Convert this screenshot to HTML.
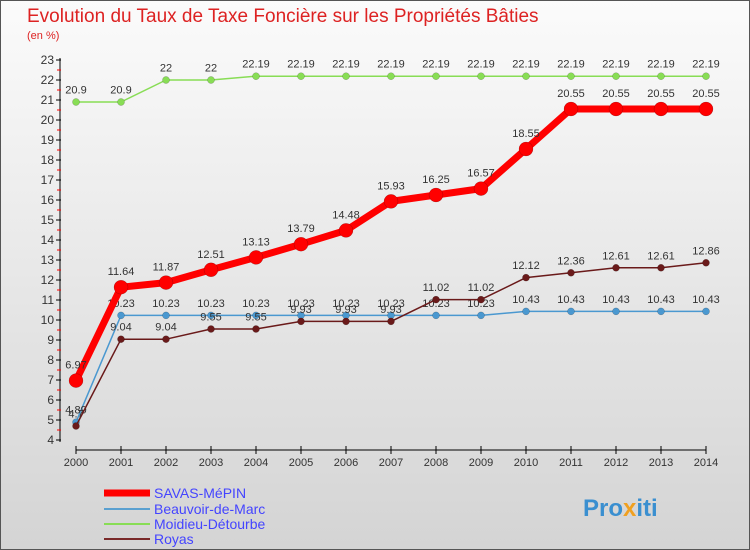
<!DOCTYPE html>
<html><head><meta charset="utf-8"><style>
body{margin:0;width:750px;height:550px;overflow:hidden;font-family:"Liberation Sans",sans-serif}
#wrap{position:absolute;left:0;top:0;width:748px;height:548px;border:1px solid #555;background:linear-gradient(#fbfbfb,#d4d4d4)}
</style></head><body>
<div id="wrap">
<svg id="c" width="750" height="550" style="position:absolute;left:-1px;top:-1px">
<text x="27" y="22" font-size="19" fill="#d22">Evolution du Taux de Taxe Foncière sur les Propriétés Bâties</text>
<text x="27" y="39" font-size="11" fill="#d22">(en %)</text>
<g id="axes"></g><g id="series"></g>
<g>
<line x1="104" y1="493" x2="150" y2="493" stroke="#f00" stroke-width="7"/>
<text x="154" y="498" font-size="14" fill="#44f">SAVAS-MéPIN</text>
<line x1="104" y1="509" x2="150" y2="509" stroke="#5aa0d0" stroke-width="2"/>
<text x="154" y="514" font-size="14" fill="#44f">Beauvoir-de-Marc</text>
<line x1="104" y1="524" x2="150" y2="524" stroke="#88dd55" stroke-width="2"/>
<text x="154" y="529" font-size="14" fill="#44f">Moidieu-Détourbe</text>
<line x1="104" y1="539" x2="150" y2="539" stroke="#7a2a2a" stroke-width="2"/>
<text x="154" y="544" font-size="14" fill="#44f">Royas</text>
</g>
<text x="583" y="516" font-size="24" font-weight="bold" fill="#3a8fd0">Pro<tspan fill="#f0a020">x</tspan>iti</text>
</svg></div>
<script>
const years=[2000,2001,2002,2003,2004,2005,2006,2007,2008,2009,2010,2011,2012,2013,2014];
const savas=[6.97,11.64,11.87,12.51,13.13,13.79,14.48,15.93,16.25,16.57,18.55,20.55,20.55,20.55,20.55];
const beauvoir=[4.89,10.23,10.23,10.23,10.23,10.23,10.23,10.23,10.23,10.23,10.43,10.43,10.43,10.43,10.43];
const moidieu=[20.9,20.9,22,22,22.19,22.19,22.19,22.19,22.19,22.19,22.19,22.19,22.19,22.19,22.19];
const royas=[4.7,9.04,9.04,9.55,9.55,9.93,9.93,9.93,11.02,11.02,12.12,12.36,12.61,12.61,12.86];
const yTicks=[4,5,6,7,8,9,10,11,12,13,14,15,16,17,18,19,20,21,22,23];
const NS="http://www.w3.org/2000/svg";
const X=i=>76+45*i, Y=v=>440-(v-4)*20;
function mk(p,t,a){const e=document.createElementNS(NS,t);for(const k in a)e.setAttribute(k,a[k]);p.appendChild(e);return e;}
const ax=document.getElementById('axes');
mk(ax,'line',{x1:60,y1:58,x2:60,y2:442,stroke:'#000','stroke-width':1});
mk(ax,'line',{x1:76,y1:450,x2:706,y2:450,stroke:'#000','stroke-width':1});
yTicks.forEach(v=>{
 const l=mk(ax,'line',{x1:56,y1:Y(v),x2:61,y2:Y(v),stroke:'#000'});
 
 
 if(v<23)mk(ax,'line',{x1:57,y1:Y(v)-10,x2:61,y2:Y(v)-10,stroke:'#f00'});
 const t=mk(ax,'text',{x:54,y:Y(v)+4,'font-size':12,'text-anchor':'end',fill:'#333'});
 t.textContent=v;
 
 
});
years.forEach((yr,i)=>{
 mk(ax,'line',{x1:X(i),y1:446,x2:X(i),y2:454,stroke:'#000'});
 const t=mk(ax,'text',{x:X(i),y:466,'font-size':11,'text-anchor':'middle',fill:'#333'});
 t.textContent=yr;
 
 
});
const sg=document.getElementById('series');
function draw(data,color,w,r,name){
 const g=mk(sg,'g',{});
 
 
 mk(g,'polyline',{points:data.map((v,i)=>X(i)+','+Y(v)).join(' '),fill:'none',stroke:color,'stroke-width':w,'stroke-linejoin':'round'});
 data.forEach((v,i)=>{
  const c=mk(g,'circle',{cx:X(i),cy:Y(v),r:r,fill:color,stroke:'rgba(0,0,0,0.3)','stroke-width':0.5});
  
  
  const t=mk(g,'text',{x:X(i),y:Y(v)-r-5,'font-size':11,'text-anchor':'middle',fill:'#333'});
  t.textContent=String(v);
  
  
 });
}
draw(moidieu,'#88dd55',1.5,3.5,'moidieu-series');
draw(beauvoir,'#4a98d0',1.5,3.5,'beauvoir-series');
draw(royas,'#6a1a1a',1.5,3.5,'royas-series');
draw(savas,'#f00',7,7,'savas-series');
</script>
</body></html>
